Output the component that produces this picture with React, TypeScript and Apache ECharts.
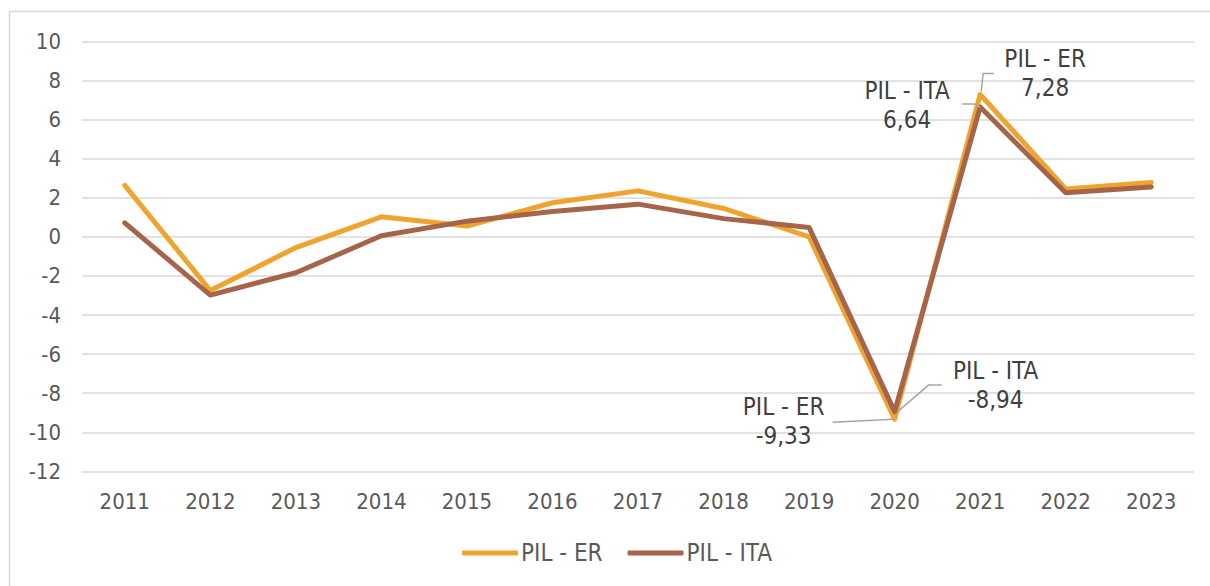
import React, { useEffect, useRef } from "react";
import * as echarts from "echarts";

const years = ["2011", "2012", "2013", "2014", "2015", "2016", "2017", "2018", "2019", "2020", "2021", "2022", "2023"];
const pilER = [2.63, -2.75, -0.55, 1.02, 0.55, 1.74, 2.35, 1.45, 0.0, -9.33, 7.28, 2.45, 2.78];
const pilITA = [0.71, -2.98, -1.84, 0.05, 0.8, 1.29, 1.67, 0.93, 0.48, -8.94, 6.64, 2.25, 2.55];
const seriesNames = ["PIL - ER", "PIL - ITA"];
const yTicks = { min: -12, max: 10, interval: 2 };

const FONT = "'DejaVu Sans Condensed', 'DejaVu Sans', sans-serif";
const AXIS_TEXT = "#595959";
const ANN_TEXT = "#404040";
const COLORS = ["#F0A430", "#A6654A"];

// annotation placement: series index, year index, label offset and leader polyline offsets (relative to point)
const annotations = [
  { s: 0, i: 10, label: [65, -21], line: [[1, -3], [3, -21], [14, -21]] },
  { s: 1, i: 10, label: [-73, -1.5], line: [[0, 0], [-6, -3], [-18, -3]] },
  { s: 0, i: 9, label: [-111, 2.5], line: [[-1, 0], [-62, 3]] },
  { s: 1, i: 9, label: [101, -26.5], line: [[3, 0], [34, -26.5], [47, -26.5]] },
];

const fmt = (v: number) => v.toFixed(2).replace(".", ",");

export default function App() {
  const ref = useRef<HTMLDivElement>(null);
  useEffect(() => {
    if (!ref.current) return;
    const chart = echarts.init(ref.current, null, { renderer: "svg" });
    const seriesData = [pilER, pilITA];
    chart.setOption({
      animation: false,
      backgroundColor: "#ffffff",
      textStyle: { fontFamily: FONT },
      grid: { left: 82, right: 16, top: 41.3, bottom: 114.6, containLabel: false },
      legend: {
        data: seriesNames,
        left: 457,
        top: 536,
        itemWidth: 56,
        itemHeight: 5,
        itemGap: 25,
        icon: "roundRect",
        textStyle: { fontFamily: FONT, fontSize: 24, color: AXIS_TEXT, padding: [0, 0, 0, -2] },
      },
      xAxis: {
        type: "category",
        data: years,
        boundaryGap: true,
        axisLine: { show: false, onZero: false },
        axisTick: { show: false },
        axisLabel: { fontFamily: FONT, fontSize: 22, color: AXIS_TEXT, margin: 19 },
        splitLine: { show: false },
      },
      yAxis: {
        type: "value",
        min: yTicks.min,
        max: yTicks.max,
        interval: yTicks.interval,
        axisLine: { show: false },
        axisTick: { show: false },
        axisLabel: { fontFamily: FONT, fontSize: 22, color: AXIS_TEXT, margin: 21 },
        splitLine: { lineStyle: { color: "#D9D9D9", width: 1.5 } },
      },
      series: seriesNames.map((name, k) => ({
        name,
        type: "line",
        data: seriesData[k],
        showSymbol: false,
        symbol: "none",
        color: COLORS[k],
        lineStyle: { color: COLORS[k], width: 5, cap: "round", join: "round" },
        z: 2 + k,
      })),
    });

    const graphics: any[] = [
      {
        type: "rect",
        shape: { x: 9.5, y: 11.5, width: 1400, height: 800 },
        style: { fill: "none", stroke: "#D9D9D9", lineWidth: 1.5 },
        silent: true,
        z: 0,
      },
    ];
    annotations.forEach((a) => {
      const v = seriesData[a.s][a.i];
      const p = chart.convertToPixel({ gridIndex: 0 }, [years[a.i], v]) as number[];
      graphics.push({
        type: "polyline",
        shape: { points: a.line.map((o) => [p[0] + o[0], p[1] + o[1]]) },
        style: { stroke: "#A6A6A6", lineWidth: 1.5, fill: "none" },
        z: 10,
      });
      graphics.push({
        type: "text",
        x: p[0] + a.label[0],
        y: p[1] + a.label[1],
        style: {
          text: seriesNames[a.s] + "\n" + fmt(v),
          font: "24px " + FONT,
          fill: ANN_TEXT,
          align: "center",
          verticalAlign: "middle",
          lineHeight: 29,
        },
        z: 10,
      });
    });
    chart.setOption({ graphic: graphics });
    return () => chart.dispose();
  }, []);
  return (
    <div
      ref={ref}
      style={{ position: "fixed", left: 0, top: 0, width: 1210, height: 586 }}
    />
  );
}
